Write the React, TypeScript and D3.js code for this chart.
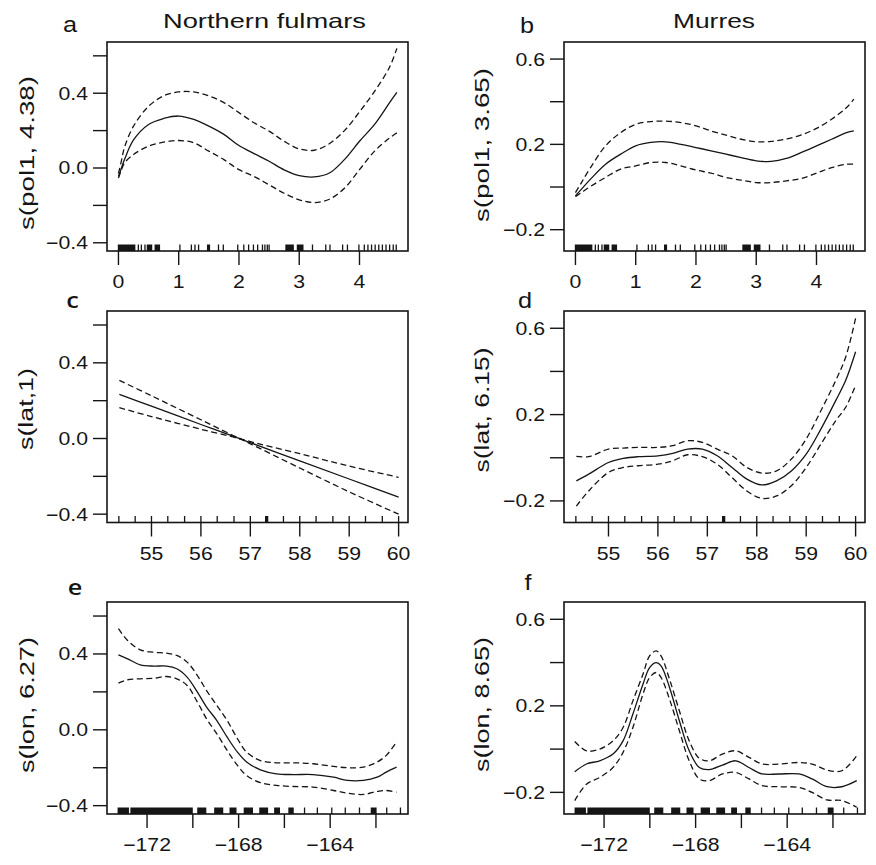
import React from "react";
import * as d3 from "d3";

// ---------- DATA ----------
// Panel a: Northern fulmars, s(pol1, 4.38)
const fulmarPol1X = [0, 0.05, 0.1, 0.25, 0.5, 0.75, 1.0, 1.25, 1.5, 1.75, 2.0, 2.25, 2.5, 2.75, 3.0, 3.25, 3.5, 3.75, 4.0, 4.25, 4.5, 4.62];
const fulmarPol1Fit = [-0.045, 0.0, 0.045, 0.15, 0.233, 0.265, 0.278, 0.26, 0.224, 0.18, 0.12, 0.077, 0.036, -0.01, -0.041, -0.048, -0.027, 0.045, 0.143, 0.233, 0.35, 0.404];
const fulmarPol1Upper = [-0.03, 0.04, 0.11, 0.224, 0.33, 0.386, 0.407, 0.407, 0.386, 0.35, 0.296, 0.242, 0.197, 0.143, 0.102, 0.095, 0.13, 0.2, 0.3, 0.41, 0.54, 0.64];
const fulmarPol1Lower = [-0.054, -0.01, 0.027, 0.072, 0.117, 0.138, 0.147, 0.135, 0.09, 0.045, -0.009, -0.045, -0.09, -0.135, -0.17, -0.185, -0.167, -0.108, -0.009, 0.09, 0.161, 0.188];

// Panel b: Murres, s(pol1, 3.65)
const murrePol1X = [0, 0.1, 0.25, 0.5, 0.75, 1.0, 1.25, 1.5, 1.75, 2.0, 2.25, 2.5, 2.75, 3.0, 3.25, 3.5, 3.75, 4.0, 4.25, 4.5, 4.62];
const murrePol1Fit = [-0.041, -0.01, 0.037, 0.107, 0.154, 0.193, 0.209, 0.212, 0.2, 0.185, 0.17, 0.154, 0.138, 0.123, 0.12, 0.134, 0.162, 0.193, 0.224, 0.255, 0.263];
const murrePol1Upper = [-0.026, 0.021, 0.091, 0.193, 0.255, 0.294, 0.307, 0.309, 0.302, 0.287, 0.263, 0.243, 0.224, 0.212, 0.214, 0.225, 0.245, 0.275, 0.318, 0.373, 0.412];
const murrePol1Lower = [-0.045, -0.026, 0.003, 0.045, 0.084, 0.099, 0.115, 0.115, 0.099, 0.08, 0.065, 0.045, 0.032, 0.021, 0.021, 0.029, 0.04, 0.065, 0.091, 0.107, 0.107];

// Panel c: Northern fulmars, s(lat,1)
const fulmarLatX = [54.35, 55, 56, 56.8, 57, 58, 59, 60];
const fulmarLatFit = [0.233, 0.171, 0.074, -0.002, -0.022, -0.118, -0.214, -0.31];
const fulmarLatUpper = [0.307, 0.226, 0.099, 0.0, -0.016, -0.08, -0.146, -0.205];
const fulmarLatLower = [0.163, 0.116, 0.049, -0.004, -0.028, -0.156, -0.282, -0.4];

// Panel d: Murres, s(lat, 6.15)
const murreLatX = [54.35, 54.6, 55.0, 55.3, 55.6, 56.0, 56.3, 56.6, 56.9, 57.2, 57.5, 57.8, 58.1, 58.4, 58.7, 59.0, 59.3, 59.6, 59.8, 60.0];
const murreLatFit = [-0.107, -0.076, -0.022, -0.003, 0.005, 0.009, 0.02, 0.04, 0.04, 0.009, -0.045, -0.099, -0.126, -0.107, -0.061, 0.017, 0.134, 0.266, 0.359, 0.491];
const murreLatUpper = [0.006, 0.005, 0.04, 0.045, 0.048, 0.048, 0.056, 0.079, 0.071, 0.04, 0.009, -0.045, -0.071, -0.061, -0.006, 0.087, 0.219, 0.359, 0.467, 0.646];
const murreLatLower = [-0.224, -0.154, -0.068, -0.045, -0.037, -0.03, -0.014, 0.014, 0.005, -0.03, -0.092, -0.154, -0.188, -0.177, -0.13, -0.045, 0.064, 0.172, 0.234, 0.335];

// Panel e: Northern fulmars, s(lon, 6.27)
const fulmarLonX = [-173.25, -172.85, -172.3, -171.7, -171.15, -170.7, -170.25, -169.8, -169.4, -168.95, -168.5, -168.05, -167.65, -167.05, -166.35, -165.6, -164.75, -163.85, -163.25, -162.55, -161.95, -161.55, -161.1];
const fulmarLonFit = [0.395, 0.374, 0.343, 0.336, 0.336, 0.322, 0.278, 0.199, 0.12, 0.049, -0.039, -0.118, -0.17, -0.211, -0.232, -0.236, -0.236, -0.25, -0.267, -0.267, -0.25, -0.223, -0.197];
const fulmarLonUpper = [0.533, 0.471, 0.422, 0.409, 0.404, 0.392, 0.357, 0.286, 0.207, 0.128, 0.049, -0.047, -0.118, -0.162, -0.174, -0.174, -0.179, -0.193, -0.2, -0.197, -0.17, -0.135, -0.065];
const fulmarLonLower = [0.246, 0.264, 0.269, 0.272, 0.281, 0.269, 0.234, 0.146, 0.058, -0.021, -0.109, -0.188, -0.241, -0.279, -0.293, -0.299, -0.302, -0.32, -0.334, -0.341, -0.325, -0.32, -0.329];

// Panel f: Murres, s(lon, 8.65)
const murreLonX = [-173.28, -172.77, -172.19, -171.61, -171.17, -170.74, -170.3, -170.01, -169.72, -169.51, -169.14, -168.71, -168.28, -167.84, -167.41, -166.83, -166.25, -165.67, -165.09, -164.36, -163.49, -162.91, -162.26, -161.61, -160.96];
const murreLonFit = [-0.105, -0.069, -0.054, -0.023, 0.038, 0.162, 0.3, 0.377, 0.4, 0.385, 0.285, 0.131, -0.008, -0.085, -0.095, -0.074, -0.054, -0.085, -0.115, -0.115, -0.115, -0.138, -0.174, -0.174, -0.146];
const murreLonUpper = [0.035, -0.008, 0.0, 0.038, 0.1, 0.223, 0.346, 0.431, 0.454, 0.431, 0.323, 0.177, 0.038, -0.042, -0.054, -0.023, -0.008, -0.038, -0.069, -0.069, -0.062, -0.069, -0.097, -0.1, -0.031];
const murreLonLower = [-0.238, -0.162, -0.131, -0.085, -0.015, 0.1, 0.254, 0.331, 0.354, 0.331, 0.231, 0.085, -0.054, -0.138, -0.146, -0.115, -0.108, -0.138, -0.169, -0.174, -0.177, -0.2, -0.235, -0.238, -0.269];

// Rug (data locations); [lo, hi] intervals, single values have lo = hi
const pol1Rug: [number, number][] = [
  [0, 0.27], [0.33, 0.33], [0.38, 0.38], [0.44, 0.44], [0.48, 0.55], [0.61, 0.68],
  [1.02, 1.02], [1.21, 1.21], [1.27, 1.27], [1.33, 1.33], [1.48, 1.51], [1.66, 1.66], [1.74, 1.74],
  [1.98, 1.98], [2.08, 2.08], [2.16, 2.16], [2.24, 2.24], [2.31, 2.31], [2.39, 2.39], [2.43, 2.43],
  [2.47, 2.47], [2.5, 2.5], [2.78, 2.9], [2.97, 3.06], [3.22, 3.22], [3.44, 3.44], [3.51, 3.51],
  [3.72, 3.72], [3.8, 3.8], [3.99, 3.99], [4.08, 4.08], [4.14, 4.14], [4.2, 4.2], [4.26, 4.26],
  [4.32, 4.32], [4.38, 4.38], [4.44, 4.44], [4.5, 4.5], [4.56, 4.56], [4.61, 4.61],
];
const latRug: [number, number][] = [
  [54.34, 54.34], [54.67, 54.67], [55, 55], [55.33, 55.33], [55.67, 55.67], [56, 56], [56.33, 56.33],
  [56.67, 56.67], [57, 57], [57.31, 57.35], [57.67, 57.67], [58, 58], [58.33, 58.33], [58.67, 58.67],
  [59, 59], [59.33, 59.33], [59.67, 59.67], [60, 60],
];
const lonRug: [number, number][] = [
  [-173.26, -172.82], [-172.7, -170.03], [-169.78, -169.44], [-169.04, -168.7], [-168.37, -168.12],
  [-167.75, -167.4], [-167.07, -166.74], [-166.42, -166.22], [-165.8, -165.62], [-165.12, -165.12],
  [-164.56, -164.56], [-163.93, -163.93], [-163.34, -163.34], [-162.72, -162.72], [-162.2, -162.0],
  [-161.53, -161.53], [-160.93, -160.93],
];

// Axis ticks
const pol1Ticks = [0, 1, 2, 3, 4];
const pol1Labels = [0, 1, 2, 3, 4];
const latTicks = [55, 56, 57, 58, 59, 60];
const latLabels = [55, 56, 57, 58, 59, 60];
const lonTicks = [-172, -170, -168, -166, -164, -162];
const lonLabels = [-172, -168, -164];
const fulmarYTicks = [-0.4, -0.2, 0, 0.2, 0.4, 0.6];
const fulmarYLabels = [-0.4, 0, 0.4];
const murreYTicks = [-0.2, 0, 0.2, 0.4, 0.6];
const murreYLabels = [-0.2, 0.2, 0.6];

const columnTitles = ["Northern fulmars", "Murres"];
const panelLetters = ["a", "b", "c", "d", "e", "f"];
const yAxisTitles = ["s(pol1, 4.38)", "s(pol1, 3.65)", "s(lat,1)", "s(lat, 6.15)", "s(lon, 6.27)", "s(lon, 8.65)"];

// ---------- LAYOUT ----------
const W = 876;
const H = 865;
const colX = [[107, 408], [564, 865]];
const rowY = [[42, 251], [311, 522.5], [602, 814]];
const colYDomain = [[-0.444, 0.674], [-0.3, 0.68]];
const xDomains = [[-0.19, 4.805], [54.1, 60.19], [-173.75, -160.6]];
const INK = "#151515";
const FONT = "'Liberation Sans', Arial, Helvetica, sans-serif";

type Panel = {
  row: number;
  col: number;
  x: number[];
  fit: number[];
  upper: number[];
  lower: number[];
  rug: [number, number][];
  xTicks: number[];
  xLabels: number[];
  yTicks: number[];
  yLabels: number[];
  letter: string;
  letterPos: [number, number];
  letterFont: string;
  letterWeight: number;
  ytitle: string;
  ytitlePos: [number, number];
  ytitleLen: number;
};

const panels: Panel[] = [
  { row: 0, col: 0, x: fulmarPol1X, fit: fulmarPol1Fit, upper: fulmarPol1Upper, lower: fulmarPol1Lower, rug: pol1Rug, xTicks: pol1Ticks, xLabels: pol1Labels, yTicks: fulmarYTicks, yLabels: fulmarYLabels, letter: panelLetters[0], letterPos: [70, 32], letterFont: FONT, letterWeight: 400, ytitle: yAxisTitles[0], ytitlePos: [34, 153], ytitleLen: 154 },
  { row: 0, col: 1, x: murrePol1X, fit: murrePol1Fit, upper: murrePol1Upper, lower: murrePol1Lower, rug: pol1Rug, xTicks: pol1Ticks, xLabels: pol1Labels, yTicks: murreYTicks, yLabels: murreYLabels, letter: panelLetters[1], letterPos: [527, 33], letterFont: FONT, letterWeight: 400, ytitle: yAxisTitles[1], ytitlePos: [489, 145], ytitleLen: 154 },
  { row: 1, col: 0, x: fulmarLatX, fit: fulmarLatFit, upper: fulmarLatUpper, lower: fulmarLatLower, rug: latRug, xTicks: latTicks, xLabels: latLabels, yTicks: fulmarYTicks, yLabels: fulmarYLabels, letter: panelLetters[2], letterPos: [72.5, 308], letterFont: "'Open Sans', sans-serif", letterWeight: 600, ytitle: yAxisTitles[2], ytitlePos: [33, 409], ytitleLen: 82 },
  { row: 1, col: 1, x: murreLatX, fit: murreLatFit, upper: murreLatUpper, lower: murreLatLower, rug: latRug, xTicks: latTicks, xLabels: latLabels, yTicks: murreYTicks, yLabels: murreYLabels, letter: panelLetters[3], letterPos: [525, 308], letterFont: FONT, letterWeight: 400, ytitle: yAxisTitles[3], ytitlePos: [489, 410], ytitleLen: 125 },
  { row: 2, col: 0, x: fulmarLonX, fit: fulmarLonFit, upper: fulmarLonUpper, lower: fulmarLonLower, rug: lonRug, xTicks: lonTicks, xLabels: lonLabels, yTicks: fulmarYTicks, yLabels: fulmarYLabels, letter: panelLetters[4], letterPos: [75, 595], letterFont: "'Open Sans', sans-serif", letterWeight: 600, ytitle: yAxisTitles[4], ytitlePos: [34, 705], ytitleLen: 136 },
  { row: 2, col: 1, x: murreLonX, fit: murreLonFit, upper: murreLonUpper, lower: murreLonLower, rug: lonRug, xTicks: lonTicks, xLabels: lonLabels, yTicks: murreYTicks, yLabels: murreYLabels, letter: panelLetters[5], letterPos: [528, 590], letterFont: FONT, letterWeight: 400, ytitle: yAxisTitles[5], ytitlePos: [489, 704.5], ytitleLen: 135 },
];

const fmtY = d3.format(".1f");
const fmtX = d3.format("d");

function PanelView({ p }: { p: Panel }) {
  const [x0, x1] = colX[p.col];
  const [y0, y1] = rowY[p.row];
  const xs = d3.scaleLinear().domain(xDomains[p.row]).range([x0, x1]);
  const ys = d3.scaleLinear().domain(colYDomain[p.col]).range([y1, y0]);
  const line = d3
    .line<number>()
    .x((_, i) => xs(p.x[i]))
    .y((d) => ys(d))
    .curve(d3.curveCatmullRom.alpha(0.5));
  const tickLen = 14;
  return (
    <g>
      <defs>
        <clipPath id={`clip-${p.letter}`}>
          <rect x={x0} y={y0} width={x1 - x0} height={y1 - y0} />
        </clipPath>
      </defs>
      {/* rug */}
      <g fill={INK}>
        {p.rug.map(([lo, hi], i) => (
          <rect key={i} x={xs(lo) - 0.65} y={y1 - 6.5} width={xs(hi) - xs(lo) + 1.3} height={6.5} />
        ))}
      </g>
      {/* curves */}
      <g clipPath={`url(#clip-${p.letter})`} fill="none" stroke={INK}>
        <path d={line(p.upper) || ""} strokeWidth={1.3} strokeDasharray="6,3.5" />
        <path d={line(p.lower) || ""} strokeWidth={1.3} strokeDasharray="6,3.5" />
        <path d={line(p.fit) || ""} strokeWidth={1.3} />
      </g>
      {/* box */}
      <rect x={x0} y={y0} width={x1 - x0} height={y1 - y0} fill="none" stroke={INK} strokeWidth={1.6} />
      {/* x ticks */}
      {p.xTicks.map((t) => (
        <line key={t} x1={xs(t)} x2={xs(t)} y1={y1} y2={y1 + tickLen} stroke={INK} strokeWidth={1.4} />
      ))}
      {p.xLabels.map((t) => (
        <text
          key={t}
          transform={`translate(${xs(t)},${y1 + 37}) scale(1.18,1)`}
          textAnchor="middle"
          fontSize={18}
          fontFamily={FONT}
          fill={INK}
        >
          {fmtX(t)}
        </text>
      ))}
      {/* y ticks */}
      {p.yTicks.map((t) => (
        <line key={t} x1={x0 - tickLen} x2={x0} y1={ys(t)} y2={ys(t)} stroke={INK} strokeWidth={1.4} />
      ))}
      {p.yLabels.map((t) => (
        <text
          key={t}
          transform={`translate(${x0 - tickLen - 5},${ys(t) + 6.5}) scale(1.18,1)`}
          textAnchor="end"
          fontSize={18}
          fontFamily={FONT}
          fill={INK}
        >
          {fmtY(t)}
        </text>
      ))}
      {/* y axis title */}
      <text
        transform={`translate(${p.ytitlePos[0]},${p.ytitlePos[1]}) rotate(-90)`}
        textAnchor="middle"
        fontSize={21}
        fontFamily={FONT}
        fill={INK}
        textLength={p.ytitleLen}
        lengthAdjust="spacingAndGlyphs"
      >
        {p.ytitle}
      </text>
      {/* panel letter */}
      <text
        transform={`translate(${p.letterPos[0]},${p.letterPos[1]}) scale(1.15,1)`}
        textAnchor="middle"
        fontSize={22}
        fontFamily={p.letterFont}
        fontWeight={p.letterWeight}
        fill={INK}
      >
        {p.letter}
      </text>
    </g>
  );
}

export default function App() {
  return (
    <svg
      width={W}
      height={H}
      viewBox={`0 0 ${W} ${H}`}
      style={{ position: "absolute", left: 0, top: 0, background: "#fff" }}
    >
      <rect x={0} y={0} width={W} height={H} fill="#fff" />
      <text x={264.5} y={28} textAnchor="middle" fontSize={21} fontFamily={FONT} fill={INK} textLength={203} lengthAdjust="spacingAndGlyphs">
        {columnTitles[0]}
      </text>
      <text x={714} y={28} textAnchor="middle" fontSize={21} fontFamily={FONT} fill={INK} textLength={82} lengthAdjust="spacingAndGlyphs">
        {columnTitles[1]}
      </text>
      {panels.map((p) => (
        <PanelView key={p.letter} p={p} />
      ))}
    </svg>
  );
}
